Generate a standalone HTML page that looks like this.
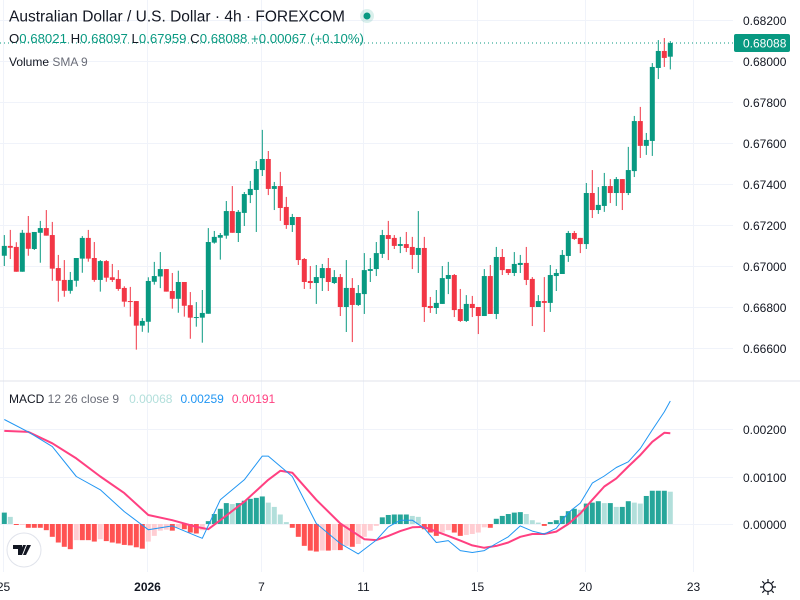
<!DOCTYPE html>
<html><head><meta charset="utf-8"><style>
html,body{margin:0;padding:0;background:#fff;}
svg{display:block;font-family:"Liberation Sans",sans-serif;}
</style></head><body>
<svg id="chart" width="800" height="600" viewBox="0 0 800 600" xmlns="http://www.w3.org/2000/svg">
<rect x="0" y="0" width="800" height="600" fill="#ffffff"/>
<g id="grid"></g>
<g id="candles"></g>
<g id="macd"></g>
<g id="axes"></g>
<line x1="0" y1="381" x2="800" y2="381" stroke="#e0e3eb" stroke-width="1"/>
<line x1="0" y1="43" x2="733" y2="43" stroke="#089981" stroke-width="1" stroke-dasharray="1,3"/>
<rect x="734" y="34" width="56" height="18" rx="2" fill="#089981"/>
<text x="743" y="47.5" font-size="12" fill="#ffffff">0.68088</text>
<text x="9" y="21.5" font-size="15.5" fill="#131722">Australian Dollar / U.S. Dollar · 4h · FOREXCOM</text>
<circle cx="367" cy="16" r="7" fill="#089981" fill-opacity="0.15"/>
<circle cx="367" cy="16" r="3.5" fill="#089981"/>
<text x="9" y="43" font-size="13.2" fill="#089981"><tspan fill="#131722">O</tspan>0.68021 <tspan fill="#131722">H</tspan>0.68097 <tspan fill="#131722">L</tspan>0.67959 <tspan fill="#131722">C</tspan>0.68088 +0.00067 (+0.10%)</text>
<text x="9" y="66" font-size="12" fill="#131722">Volume <tspan fill="#6a6d78">SMA 9</tspan></text>
<text x="9" y="403" font-size="12" fill="#131722">MACD <tspan fill="#6a6d78">12 26 close 9</tspan><tspan fill="#b2dfdb" dx="10">0.00068</tspan><tspan fill="#2196f3" dx="8">0.00259</tspan><tspan fill="#ff4081" dx="8">0.00191</tspan></text>
<g>
<circle cx="24" cy="550" r="17" fill="#ffffff" stroke="#e0e3eb"/>
<path d="M13 545h9v10h-4v-6h-5z M23 545h3l-4 10h-3z M27 545h4l-5 10h-3z" fill="#131722"/>
</g>
<g transform="translate(768,587)">
<circle r="4.5" fill="none" stroke="#131722" stroke-width="1.2"/>
<path d="M0-8V-5M0 5V8M-8 0H-5M5 0H8M-5.7-5.7l2 2M3.7 3.7l2 2M-5.7 5.7l2-2M3.7-3.7l2-2" stroke="#131722" stroke-width="1.2"/>
</g>
</svg>
<script>
var open_=[0.67050,0.67098,0.67093,0.66972,0.67162,0.67083,0.67162,0.67185,0.67151,0.66990,0.66932,0.66879,0.66928,0.67036,0.67137,0.67039,0.66932,0.67024,0.66945,0.66937,0.66893,0.66829,0.66829,0.66709,0.66728,0.66923,0.66949,0.66985,0.66878,0.66840,0.66922,0.66809,0.66748,0.66748,0.66767,0.67114,0.67138,0.67148,0.67268,0.67161,0.67259,0.67346,0.67371,0.67468,0.67522,0.67376,0.67390,0.67288,0.67200,0.67239,0.67034,0.66927,0.66917,0.66941,0.66990,0.66917,0.66946,0.66800,0.66893,0.66810,0.66863,0.66976,0.66985,0.67059,0.67151,0.67137,0.67098,0.67107,0.67093,0.67054,0.67088,0.66805,0.66795,0.66815,0.66937,0.66956,0.66790,0.66732,0.66815,0.66800,0.66756,0.66951,0.66766,0.67044,0.66985,0.66966,0.67005,0.67015,0.66937,0.66800,0.66829,0.66820,0.66951,0.66961,0.67049,0.67161,0.67137,0.67107,0.67356,0.67273,0.67293,0.67390,0.67356,0.67424,0.67356,0.67463,0.67707,0.67586,0.67610,0.67966,0.68049,0.68021];
var high_=[0.67151,0.67176,0.67116,0.67176,0.67244,0.67166,0.67220,0.67273,0.67215,0.67054,0.67029,0.66971,0.67039,0.67146,0.67176,0.67117,0.67029,0.67029,0.67010,0.66980,0.66901,0.66898,0.66829,0.66746,0.66945,0.67020,0.67068,0.66985,0.66966,0.66977,0.66922,0.66873,0.66824,0.66883,0.67185,0.67171,0.67161,0.67317,0.67390,0.67273,0.67361,0.67415,0.67512,0.67664,0.67561,0.67410,0.67459,0.67337,0.67254,0.67239,0.67039,0.67000,0.67005,0.67010,0.67039,0.66980,0.66961,0.67029,0.66941,0.66907,0.67063,0.67039,0.67117,0.67176,0.67220,0.67151,0.67142,0.67166,0.67142,0.67268,0.67142,0.66849,0.66883,0.67000,0.67020,0.66961,0.66888,0.66858,0.66854,0.66800,0.66985,0.67005,0.67093,0.67083,0.66985,0.67068,0.67054,0.67093,0.66946,0.66858,0.66946,0.67005,0.66985,0.67078,0.67171,0.67171,0.67137,0.67405,0.67468,0.67385,0.67454,0.67424,0.67434,0.67424,0.67581,0.67732,0.67776,0.67649,0.67990,0.68102,0.68112,0.68097];
var low_=[0.67000,0.67034,0.66972,0.66972,0.67050,0.67078,0.67016,0.67148,0.66928,0.66826,0.66850,0.66865,0.66899,0.66967,0.67021,0.66923,0.66875,0.66923,0.66922,0.66879,0.66801,0.66753,0.66592,0.66679,0.66675,0.66909,0.66892,0.66875,0.66792,0.66772,0.66753,0.66645,0.66704,0.66626,0.66767,0.67109,0.67031,0.67133,0.67162,0.67117,0.67195,0.67307,0.67166,0.67439,0.67346,0.67273,0.67220,0.67181,0.67166,0.67005,0.66888,0.66888,0.66815,0.66878,0.66878,0.66912,0.66756,0.66678,0.66629,0.66805,0.66766,0.66922,0.66951,0.67039,0.67029,0.67083,0.67063,0.67068,0.66985,0.66966,0.66727,0.66771,0.66766,0.66815,0.66863,0.66751,0.66727,0.66727,0.66751,0.66668,0.66756,0.66766,0.66741,0.66956,0.66956,0.66951,0.66966,0.66907,0.66707,0.66800,0.66678,0.66776,0.66878,0.66961,0.67020,0.67127,0.67063,0.67083,0.67234,0.67254,0.67264,0.67307,0.67293,0.67273,0.67346,0.67434,0.67527,0.67542,0.67537,0.67912,0.67971,0.67959];
var close_=[0.67098,0.67089,0.66972,0.67162,0.67084,0.67166,0.67185,0.67148,0.66987,0.66928,0.66879,0.66932,0.67039,0.67137,0.67036,0.66932,0.67024,0.66943,0.66932,0.66888,0.66826,0.66826,0.66709,0.66732,0.66927,0.66951,0.66985,0.66875,0.66840,0.66922,0.66806,0.66748,0.66751,0.66771,0.67117,0.67142,0.67151,0.67268,0.67162,0.67264,0.67351,0.67376,0.67473,0.67522,0.67376,0.67390,0.67283,0.67200,0.67239,0.67029,0.66922,0.66917,0.66946,0.66990,0.66922,0.66946,0.66800,0.66893,0.66810,0.66868,0.66980,0.66985,0.67063,0.67151,0.67132,0.67098,0.67107,0.67088,0.67054,0.67088,0.66800,0.66795,0.66820,0.66941,0.66956,0.66785,0.66732,0.66815,0.66795,0.66756,0.66951,0.66766,0.67044,0.66980,0.66966,0.67010,0.67015,0.66932,0.66800,0.66829,0.66820,0.66956,0.66966,0.67054,0.67161,0.67132,0.67107,0.67356,0.67273,0.67298,0.67390,0.67356,0.67424,0.67356,0.67468,0.67707,0.67586,0.67615,0.67971,0.68049,0.68015,0.68088];
var hist=[0.00024,0.00015,-0.00002,-0.00001,-0.00008,-0.00008,-0.00008,-0.00013,-0.00027,-0.00039,-0.00048,-0.00053,-0.00034,-0.00034,-0.00034,-0.00037,-0.00032,-0.00036,-0.00039,-0.00041,-0.00044,-0.00045,-0.00049,-0.00052,-0.00037,-0.00025,-0.00014,-0.00012,-0.00014,-0.00008,-0.00011,-0.00018,-0.00020,-0.00013,0.00006,0.00021,0.00032,0.00044,0.00042,0.00044,0.00049,0.00053,0.00055,0.00058,0.00045,0.00036,0.00020,0.00004,-0.00008,-0.00027,-0.00046,-0.00056,-0.00058,-0.00056,-0.00056,-0.00055,-0.00055,-0.00046,-0.00048,-0.00042,-0.00027,-0.00014,-0.00004,0.00014,0.00019,0.00020,0.00020,0.00020,0.00017,0.00015,-0.00011,-0.00018,-0.00025,-0.00018,-0.00013,-0.00018,-0.00025,-0.00023,-0.00021,-0.00018,-0.00007,-0.00008,0.00011,0.00017,0.00021,0.00024,0.00025,0.00021,0.00008,0.00003,-0.00004,0.00004,0.00008,0.00017,0.00027,0.00032,0.00030,0.00043,0.00045,0.00048,0.00044,0.00044,0.00036,0.00036,0.00048,0.00045,0.00043,0.00059,0.00070,0.00070,0.00070,0.00068];
var macdIdx=[0,4,8,12,16,20,24,28,32,33,36,40,43,44,48,52,56,59,62,64,66,68,70,72,74,76,78,80,82,84,86,88,90,92,94,96,98,100,102,104,106,108,110,111];
var macdVal=[0.00220,0.00194,0.00163,0.00100,0.00072,0.00026,-0.00012,-0.00004,-0.00025,-0.00030,0.00051,0.00093,0.00143,0.00143,0.00100,0.00001,-0.00041,-0.00063,-0.00034,-0.00006,0.00008,0.00008,-0.00009,-0.00039,-0.00035,-0.00056,-0.00060,-0.00056,-0.00041,-0.00027,-0.00004,-0.00015,-0.00021,-0.00009,0.00024,0.00044,0.00086,0.00101,0.00119,0.00131,0.00159,0.00198,0.00236,0.00259];
var sigIdx=[0,4,8,12,16,20,24,28,32,34,36,40,44,46,48,52,56,60,62,64,66,68,70,72,74,76,78,80,82,84,86,88,90,92,94,96,98,100,102,104,106,108,110,111];
var sigVal=[0.00196,0.00194,0.00170,0.00138,0.00100,0.00065,0.00019,0.00008,-0.00006,-0.00011,0.00008,0.00047,0.00093,0.00112,0.00108,0.00051,0.00001,-0.00032,-0.00034,-0.00025,-0.00015,-0.00007,-0.00006,-0.00016,-0.00025,-0.00035,-0.00045,-0.00050,-0.00046,-0.00039,-0.00027,-0.00021,-0.00021,-0.00016,0.00000,0.00022,0.00051,0.00079,0.00096,0.00121,0.00145,0.00173,0.00192,0.00191];
var priceTicks=[0.682,0.680,0.678,0.676,0.674,0.672,0.670,0.668,0.666];
var macdTicks=[0.002,0.001,0];
var dateLabels=["25","2026","7","11","15","20","23"];
var dateIdx=[0,24,43,60,79,97,115];

var NS="http://www.w3.org/2000/svg";
function xOf(i){return 4.3+6*i;}
function yP(p){return 20+(0.682-p)*20500;}
function yM(v){return 524-v*47500;}
function mk(tag,attrs,parent){var e=document.createElementNS(NS,tag);for(var k in attrs)e.setAttribute(k,attrs[k]);parent.appendChild(e);return e;}
var grid=document.getElementById('grid'),cg=document.getElementById('candles'),mg=document.getElementById('macd'),ag=document.getElementById('axes');

priceTicks.forEach(function(t){
  var y=Math.round(yP(t))+0.5;
  var l=mk('line',{x1:0,x2:733,y1:y,y2:y,stroke:'#f0f3fa','stroke-width':1},grid);
  
  
  var tx=mk('text',{x:743,y:y+4.5,'font-size':12,fill:'#131722'},ag);
  tx.textContent=t.toFixed(5);
  
  
});
macdTicks.forEach(function(t){
  var y=Math.round(yM(t))+0.5;
  var l=mk('line',{x1:0,x2:733,y1:y,y2:y,stroke:'#f0f3fa','stroke-width':1},grid);
  
  
  var tx=mk('text',{x:743,y:y+4.5,'font-size':12,fill:'#131722'},ag);
  tx.textContent=t.toFixed(5);
  
  
});
dateLabels.forEach(function(d,k){
  var x=Math.round(xOf(dateIdx[k]))-0.5;
  var l=mk('line',{x1:x,x2:x,y1:0,y2:572,stroke:'#f0f3fa','stroke-width':1},grid);
  
  
  var tx=mk('text',{x:x,y:591,'font-size':12,fill:'#131722','text-anchor':'middle','font-weight':d==='2026'?'bold':'normal'},ag);
  tx.textContent=d;
  
  
});

for(var i=0;i<close_.length;i++){
  var up=close_[i]>=open_[i],col=up?'#089981':'#f23645',cx=xOf(i);
  var g=mk('g',{},cg);
  
  
  mk('line',{x1:cx,x2:cx,y1:yP(high_[i]),y2:yP(low_[i]),stroke:col,'stroke-width':1},g);
  var bodyTop=yP(Math.max(open_[i],close_[i])),bodyBot=yP(Math.min(open_[i],close_[i]));
  mk('rect',{x:cx-2.5,y:bodyTop,width:5,height:Math.max(1,bodyBot-bodyTop),fill:col},g);
}
for(var j=0;j<hist.length;j++){
  var v=hist[j],prev=j>0?hist[j-1]:v,c;
  if(v>=0)c=(v>=prev)?'#26a69a':'#b2dfdb';else c=(v<=prev)?'#ff5252':'#ffcdd2';
  var y0=yM(0),y1=yM(v);
  var r=mk('rect',{x:xOf(j)-2.5,y:Math.min(y0,y1),width:5,height:Math.max(1,Math.abs(y1-y0)),fill:c},mg);
  
  
}
function line(idx,vals,col,w,name){
  var d=idx.map(function(ix,k){return (k?'L':'M')+xOf(ix).toFixed(1)+' '+yM(vals[k]).toFixed(1);}).join(' ');
  var p=mk('path',{d:d,fill:'none',stroke:col,'stroke-width':w,'stroke-linejoin':'round'},mg);
  
  
}
line(sigIdx,sigVal,'#ff4081',2,'signal-line');
line(macdIdx,macdVal,'#2196f3',1,'macd-line');
</script>
</body></html>
